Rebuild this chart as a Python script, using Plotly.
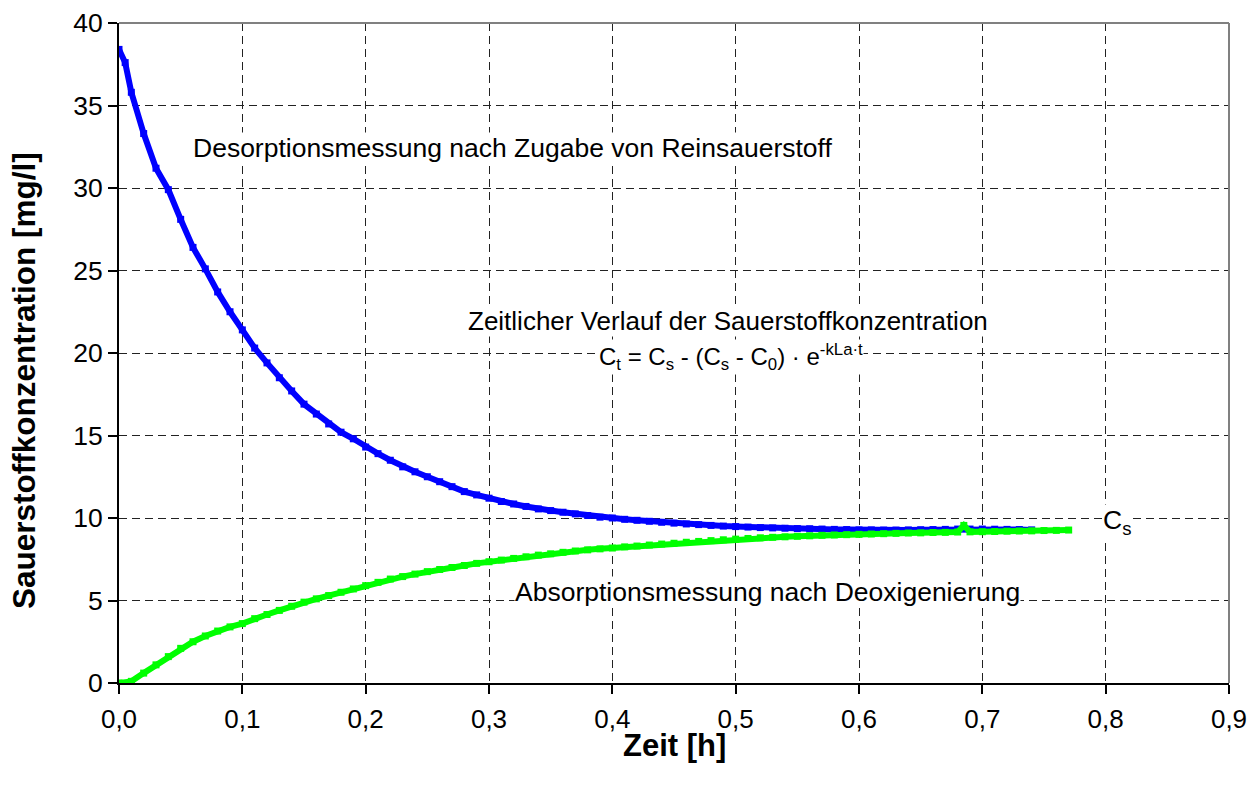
import plotly.graph_objects as go

# Desorption (blue) – time [h] and O2 concentration [mg/l]
blue_t = [0.00, 0.005, 0.01, 0.02, 0.03, 0.04, 0.05, 0.06, 0.07, 0.08, 0.09,
          0.10, 0.11, 0.12, 0.13, 0.14, 0.15, 0.16, 0.17, 0.18, 0.19,
          0.20, 0.21, 0.22, 0.23, 0.24, 0.25, 0.26, 0.27, 0.28, 0.29,
          0.30, 0.31, 0.32, 0.33, 0.34, 0.35, 0.36, 0.37, 0.38, 0.39,
          0.40, 0.41, 0.42, 0.43, 0.44, 0.45, 0.46, 0.47, 0.48, 0.49,
          0.50, 0.51, 0.52, 0.53, 0.54, 0.55, 0.56, 0.57, 0.58, 0.59,
          0.60, 0.61, 0.62, 0.63, 0.64, 0.65, 0.66, 0.67, 0.68, 0.69,
          0.70, 0.71, 0.72, 0.73, 0.74]
blue_c = [38.4, 37.6, 35.8, 33.3, 31.2, 29.9, 28.1, 26.4, 25.1, 23.7, 22.5,
          21.4, 20.3, 19.4, 18.5, 17.7, 16.9, 16.3, 15.7, 15.2, 14.8,
          14.3, 13.9, 13.5, 13.1, 12.8, 12.5, 12.2, 11.9, 11.6, 11.4,
          11.2, 11.0, 10.85, 10.7, 10.55, 10.45, 10.35, 10.25, 10.15, 10.05,
          10.0, 9.92, 9.86, 9.80, 9.74, 9.69, 9.64, 9.60, 9.55, 9.51,
          9.48, 9.45, 9.42, 9.40, 9.38, 9.36, 9.35, 9.33, 9.31, 9.30,
          9.28, 9.28, 9.27, 9.27, 9.28, 9.29, 9.30, 9.31, 9.33, 9.33,
          9.33, 9.32, 9.31, 9.30, 9.28]

# Absorption (green)
green_t = [0.00, 0.01, 0.02, 0.03, 0.04, 0.05, 0.06, 0.07, 0.08, 0.09,
           0.10, 0.11, 0.12, 0.13, 0.14, 0.15, 0.16, 0.17, 0.18, 0.19,
           0.20, 0.21, 0.22, 0.23, 0.24, 0.25, 0.26, 0.27, 0.28, 0.29,
           0.30, 0.31, 0.32, 0.33, 0.34, 0.35, 0.36, 0.37, 0.38, 0.39,
           0.40, 0.41, 0.42, 0.43, 0.44, 0.45, 0.46, 0.47, 0.48, 0.49,
           0.50, 0.51, 0.52, 0.53, 0.54, 0.55, 0.56, 0.57, 0.58, 0.59,
           0.60, 0.61, 0.62, 0.63, 0.64, 0.65, 0.66, 0.67, 0.68, 0.685,
           0.69, 0.70, 0.71, 0.72, 0.73, 0.74, 0.75, 0.76, 0.77]
green_c = [0.0, 0.1, 0.6, 1.1, 1.6, 2.1, 2.5, 2.85, 3.15, 3.4,
           3.6, 3.9, 4.15, 4.4, 4.65, 4.9, 5.1, 5.3, 5.5, 5.7,
           5.9, 6.1, 6.3, 6.45, 6.6, 6.75, 6.88, 7.0, 7.12, 7.25,
           7.35, 7.45, 7.55, 7.65, 7.75, 7.83, 7.92, 8.0, 8.07, 8.13,
           8.18, 8.25, 8.3, 8.36, 8.42, 8.47, 8.53, 8.58, 8.63, 8.68,
           8.72, 8.76, 8.8, 8.83, 8.86, 8.89, 8.92, 8.95, 8.97, 8.99,
           9.01, 9.03, 9.05, 9.07, 9.09, 9.1, 9.12, 9.13, 9.15, 9.55,
           9.16, 9.17, 9.18, 9.2, 9.21, 9.22, 9.24, 9.25, 9.27]

x_ticks = [0.0, 0.1, 0.2, 0.3, 0.4, 0.5, 0.6, 0.7, 0.8, 0.9]
y_ticks = [0, 5, 10, 15, 20, 25, 30, 35, 40]

FONT = "Liberation Sans, Arial, sans-serif"

fig = go.Figure()
fig.add_trace(go.Scatter(x=blue_t, y=blue_c, mode="lines+markers",
                         line=dict(color="#0000FF", width=6),
                         marker=dict(symbol="square", size=7, color="#0000FF"),
                         showlegend=False, hoverinfo="skip"))
fig.add_trace(go.Scatter(x=green_t, y=green_c, mode="lines+markers",
                         line=dict(color="#00FF00", width=6),
                         marker=dict(symbol="square", size=7, color="#00FF00"),
                         showlegend=False, hoverinfo="skip"))

annotations = [
    dict(x=0.319, y=32.4, text="Desorptionsmessung nach Zugabe von Reinsauerstoff", size=26.5),
    dict(x=0.494, y=21.95, text="Zeitlicher Verlauf der Sauerstoffkonzentration", size=26),
    dict(x=0.496, y=19.75,
         text="C<sub>t</sub> = C<sub>s</sub> - (C<sub>s</sub> - C<sub>0</sub>) · e<sup>-kLa·t</sup>",
         size=24),
    dict(x=0.526, y=5.5, text="Absorptionsmessung nach Deoxigenierung", size=26.5),
    dict(x=0.809, y=9.75, text="C<sub>s</sub>", size=26.5),
]
for a in annotations:
    sz = a.pop("size")
    fig.add_annotation(xref="x", yref="y", showarrow=False,
                       font=dict(family=FONT, size=sz, color="black"),
                       bgcolor="white", borderpad=0, **a)

# axis titles
fig.add_annotation(xref="paper", yref="paper", x=0.5, y=0, yshift=-62,
                   xanchor="center", yanchor="middle",
                   text="<b>Zeit [h]</b>", showarrow=False,
                   font=dict(family=FONT, size=31, color="black"))
fig.add_annotation(xref="paper", yref="paper", x=0, xshift=-95, y=0.5, yshift=-28,
                   xanchor="center", yanchor="middle",
                   text="<b>Sauerstoffkonzentration [mg/l]</b>", textangle=-90,
                   showarrow=False, font=dict(family=FONT, size=31.5, color="black"))

# gray frame top/right
fig.add_shape(type="line", xref="paper", yref="paper", x0=0, x1=1, y0=1, y1=1,
              line=dict(color="#808080", width=2))
fig.add_shape(type="line", xref="paper", yref="paper", x0=1, x1=1, y0=0, y1=1,
              line=dict(color="#808080", width=2))

grid = dict(showgrid=True, gridcolor="#222222", gridwidth=1, griddash="8px,5px")
fig.update_xaxes(range=[0, 0.9], tickvals=x_ticks, tickformat=".1f",
                 showline=True, linecolor="black", linewidth=2,
                 ticks="outside", ticklen=9, tickwidth=2, tickcolor="black",
                 tickfont=dict(family=FONT, size=26, color="black"),
                 ticklabelstandoff=3, zeroline=False, **grid)
fig.update_yaxes(range=[0, 40], tickvals=y_ticks,
                 showline=True, linecolor="black", linewidth=2,
                 ticks="outside", ticklen=9, tickwidth=2, tickcolor="black",
                 tickfont=dict(family=FONT, size=26.5, color="black"),
                 ticklabelstandoff=0, zeroline=False, **grid)

fig.update_layout(width=1258, height=785, separators=",.",
                  margin=dict(l=111, r=37, t=15, b=110, autoexpand=False),
                  plot_bgcolor="white", paper_bgcolor="white",
                  font=dict(family=FONT))
fig.write_html("out.html")
